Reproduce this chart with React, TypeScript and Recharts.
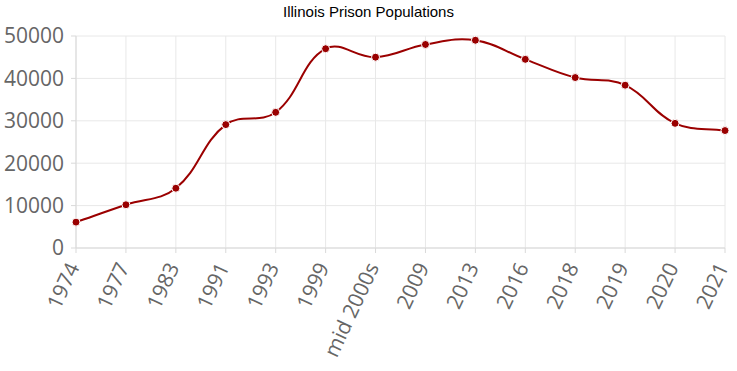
import React from "react";
import {
  LineChart,
  Line,
  XAxis,
  YAxis,
  CartesianGrid,
} from "recharts";

// categories and values
const years = [
  "1974",
  "1977",
  "1983",
  "1991",
  "1993",
  "1999",
  "mid 2000s",
  "2009",
  "2013",
  "2016",
  "2018",
  "2019",
  "2020",
  "2021",
];
const population = [
  6100, 10200, 14100, 29100, 32000, 47000, 45000, 48000, 49000, 44500, 40200,
  38400, 29400, 27700,
];
const yTicks = [0, 10000, 20000, 30000, 40000, 50000];

const data = years.map((year, i) => ({ year, population: population[i] }));

const GRID = "#e8e8e8";
const AXIS = "#d9d9d9";
const LABEL = "#666";

// spline like chart.js (tension 0.4, distance weighted control points)
const splineCurve = (tension: number) => (context: any) => {
  let pts: [number, number][] = [];
  return {
    areaStart() {},
    areaEnd() {},
    lineStart() {
      pts = [];
    },
    point(x: number, y: number) {
      pts.push([+x, +y]);
    },
    lineEnd() {
      const n = pts.length;
      if (!n) return;
      context.moveTo(pts[0][0], pts[0][1]);
      if (n === 1) return;
      const cps = pts.map((p, i) => {
        const prev = i > 0 ? pts[i - 1] : p;
        const next = i < n - 1 ? pts[i + 1] : p;
        const d01 = Math.hypot(p[0] - prev[0], p[1] - prev[1]);
        const d12 = Math.hypot(next[0] - p[0], next[1] - p[1]);
        const sum = d01 + d12;
        const fa = sum ? (tension * d01) / sum : 0;
        const fb = sum ? (tension * d12) / sum : 0;
        return {
          inX: p[0] - fa * (next[0] - prev[0]),
          inY: p[1] - fa * (next[1] - prev[1]),
          outX: p[0] + fb * (next[0] - prev[0]),
          outY: p[1] + fb * (next[1] - prev[1]),
        };
      });
      for (let i = 1; i < n; i++) {
        context.bezierCurveTo(
          cps[i - 1].outX,
          cps[i - 1].outY,
          cps[i].inX,
          cps[i].inY,
          pts[i][0],
          pts[i][1]
        );
      }
    },
  };
};

const YearTick = (props: any) => {
  const { x, y, payload } = props;
  const tx = x + 4;
  const ty = y + 12;
  return (
    <text
      x={tx}
      y={ty}
      transform={`rotate(-65 ${tx} ${ty})`}
      textAnchor="end"
      fill={LABEL}
      fontSize={21}
      fontFamily="'Open Sans', sans-serif"
    >
      {payload.value}
    </text>
  );
};

export default function App() {
  return (
    <div style={{ position: "absolute", left: 0, top: 0, width: 737, height: 371 }}>
      <div
        style={{
          position: "absolute",
          left: 0,
          top: 3,
          width: 737,
          textAlign: "center",
          fontFamily: "'Liberation Sans', Arial, sans-serif",
          fontSize: 15,
          lineHeight: "17px",
          color: "#000",
        }}
      >
        Illinois Prison Populations
      </div>
      <LineChart
        width={737}
        height={371}
        data={data}
        margin={{ top: 36, right: 12, bottom: 0, left: 0 }}
      >
        <CartesianGrid stroke={GRID} />
        <XAxis
          dataKey="year"
          interval={0}
          height={123}
          stroke={AXIS}
          tickSize={5}
          tick={<YearTick />}
        />
        <YAxis
          domain={[0, 50000]}
          ticks={yTicks}
          width={76}
          stroke={AXIS}
          tickSize={5}
          tickMargin={7}
          tick={{ fill: LABEL, fontSize: 21, fontFamily: "'Open Sans', sans-serif" }}
        />
        <Line
          dataKey="population"
          type={splineCurve(0.4) as any}
          stroke="#9b0000"
          strokeWidth={2}
          dot={{ r: 4, fill: "#990000", stroke: "#fff", strokeWidth: 1 }}
          isAnimationActive={false}
        />
      </LineChart>
    </div>
  );
}
